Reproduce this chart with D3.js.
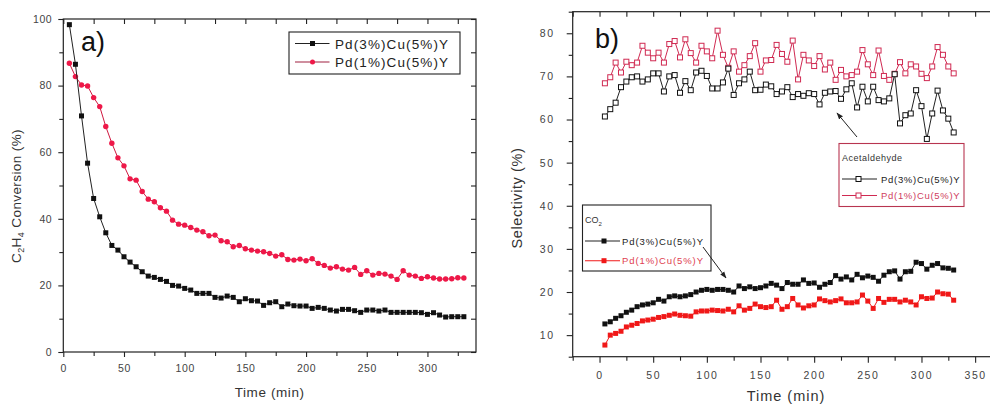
<!DOCTYPE html>
<html><head><meta charset="utf-8">
<script src="https://cdn.jsdelivr.net/npm/d3@7"></script>
<style>
body{margin:0;background:#fff;}
svg{display:block;font-family:"Liberation Sans",Arial,sans-serif;}
.tick text{fill:#444;}
.domain{display:none;}
.tick line{stroke:#222;stroke-width:1.1;}
</style></head>
<body>
<script>
// ---------- DATA ----------
const time = [5,10,15,20,25,30,35,40,45,50,55,60,65,70,75,80,85,90,95,100,105,110,115,120,125,130,135,140,145,150,155,160,165,170,175,180,185,190,195,200,205,210,215,220,225,230,235,240,245,250,255,260,265,270,275,280,285,290,295,300,305,310,315,320,325,330];

// panel a) C2H4 conversion (%)
const convPd3 = [98.3,86.4,70.9,56.7,46.1,40.6,35.8,32.0,30.6,28.6,27.0,25.6,24.1,22.8,22.4,21.8,21.2,20.0,19.8,19.1,18.6,17.6,17.6,17.6,16.4,16.2,16.8,16.4,15.1,16.0,15.4,15.3,14.0,14.8,15.1,13.6,14.4,13.9,13.8,13.8,13.1,13.4,13.1,12.6,12.3,12.8,12.8,12.4,11.9,12.6,12.6,12.3,12.6,11.9,11.9,11.9,11.9,11.9,11.8,11.3,11.8,11.1,10.5,10.6,10.6,10.6];
const convPd1 = [86.7,82.7,80.2,79.9,76.4,73.7,67.7,62.7,58.3,55.9,52.0,51.6,48.2,45.9,45.1,43.3,42.3,39.6,38.4,38.1,37.4,36.6,36.1,34.9,35.1,33.4,33.1,31.6,32.0,31.0,30.6,30.3,30.1,29.6,28.8,29.2,27.8,27.6,27.9,27.4,28.0,26.6,26.0,25.2,25.6,24.9,24.6,25.4,23.3,24.4,23.1,23.6,23.4,22.8,21.8,24.4,23.1,22.8,22.1,22.6,22.2,21.9,21.9,22.0,22.3,22.2];

// panel b) selectivity (%)
const aldPd3 = [60.7,62.4,63.9,67.5,68.8,69.8,70.0,68.8,69.3,70.7,70.7,66.5,70.0,70.3,66.2,68.9,66.8,70.9,71.3,70.1,67.2,67.2,68.6,71.8,65.7,68.4,69.3,71.1,66.8,66.9,68.1,67.7,65.9,66.5,67.5,65.2,65.9,65.5,66.1,65.9,63.5,66.2,66.5,66.6,64.8,67.0,68.4,62.8,67.6,64.2,67.6,64.5,64.2,64.9,70.5,59.1,61.0,61.4,66.8,63.1,55.5,61.4,66.7,62.1,60.2,57.0];
const aldPd1 = [68.4,69.8,73.2,70.9,73.4,72.6,73.2,77.1,75.5,74.2,75.5,73.2,77.5,78.2,74.4,78.6,75.4,73.2,77.1,75.8,74.2,80.6,75.0,72.0,75.8,71.1,72.6,74.7,77.7,71.1,73.7,73.8,77.3,75.2,73.4,78.3,69.3,75.0,73.7,72.4,74.7,71.6,73.2,69.2,71.5,70.0,70.3,71.1,76.1,72.8,70.3,76.0,70.1,69.2,70.6,73.3,70.7,72.8,72.3,70.6,69.6,72.3,76.8,75.0,72.3,70.7];
const co2Pd3 = [12.6,13.1,13.9,14.5,15.3,15.8,16.6,17.0,17.2,17.5,18.3,17.9,18.9,19.1,18.9,19.1,19.4,20.0,20.4,20.6,20.4,20.6,20.6,20.4,20.0,21.4,20.8,21.2,20.8,21.0,21.4,22.0,21.6,20.8,22.2,21.8,21.8,22.8,22.0,22.1,21.1,21.8,22.2,23.8,23.0,23.5,22.8,24.1,23.3,23.7,23.4,22.5,23.9,24.7,24.9,23.0,24.7,24.8,26.9,26.6,25.3,26.2,26.6,25.6,25.5,25.1];
const co2Pd1 = [7.7,10.0,10.4,10.9,11.9,12.3,12.7,13.3,13.5,13.7,14.1,14.3,14.6,14.9,14.6,14.5,14.4,15.4,15.6,15.6,15.8,15.7,15.6,16.0,15.4,16.8,15.8,16.2,17.2,16.6,16.4,16.6,18.1,16.0,16.6,18.5,17.0,16.3,16.8,17.0,18.4,18.0,17.7,18.0,18.4,17.5,17.5,17.7,19.3,17.9,16.2,18.5,17.6,18.3,18.3,17.7,18.1,17.7,17.0,18.9,18.5,18.6,20.0,19.6,19.5,18.1];

// ticks
const aXMajor = [0,50,100,150,200,250,300];
const aXMinor = [25,75,125,175,225,275,325];
const aYMajor = [0,20,40,60,80,100];
const aYMinor = [10,30,50,70,90];
const bXMajor = [0,50,100,150,200,250,300,350];
const bXMinor = [-25,25,75,125,175,225,275,325];
const bYMajor = [10,20,30,40,50,60,70,80];
const bYMinor = [5,15,25,35,45,55,65,75,85];

const seriesNames = ["Pd(3%)Cu(5%)Y","Pd(1%)Cu(5%)Y"];
const legendNamesB = ["Pd(3%)Cu(5%)Y","Pd(1%)Cu(5%)Y"];

// ---------- DRAW ----------
const W = 990, H = 405;
const svg = d3.select("body").append("svg").attr("width",W).attr("height",H);
const defs = svg.append("defs");
defs.append("marker").attr("id","arr").attr("viewBox","0 0 10 10").attr("refX",9).attr("refY",5)
  .attr("markerWidth",7).attr("markerHeight",7).attr("orient","auto")
  .append("path").attr("d","M0,1.5 L10,5 L0,8.5 Z").attr("fill","#222");

const BLACK = "#111", RED_A = "#ee1848", RED_ALD = "#d02a52", RED_CO2 = "#f01818";

function styleTicks(g, fs, ls){
  g.selectAll(".tick text").style("font-size",fs+"px").style("letter-spacing",ls+"px");
}

function frame(x, y, o){
  const [x0,x1] = x.range(); const [y0,y1] = y.range();
  const gb = svg.append("g").attr("transform",`translate(0,${y0})`)
    .call(d3.axisBottom(x).tickValues(o.xMaj).tickSize(o.tl).tickPadding(o.bpad).tickSizeOuter(0));
  styleTicks(gb, o.fs, o.ls);
  svg.append("g").attr("transform",`translate(0,${y0})`)
    .call(d3.axisBottom(x).tickValues(o.xMin).tickSize(o.tm).tickFormat("").tickSizeOuter(0));
  const gl = svg.append("g").attr("transform",`translate(${x0},0)`)
    .call(d3.axisLeft(y).tickValues(o.yMaj).tickSize(o.tl).tickPadding(o.lpad).tickSizeOuter(0));
  styleTicks(gl, o.fs, o.ls);
  svg.append("g").attr("transform",`translate(${x0},0)`)
    .call(d3.axisLeft(y).tickValues(o.yMin).tickSize(o.tm).tickFormat("").tickSizeOuter(0));
  svg.append("g").attr("transform",`translate(0,${y1})`)
    .call(d3.axisBottom(x).tickValues(o.xMaj.concat(o.xMin)).tickSize(5).tickFormat("").tickSizeOuter(0));
  if (o.right){
    svg.append("g").attr("transform",`translate(${x1},0)`)
      .call(d3.axisLeft(y).tickValues(o.yMaj.concat(o.yMin)).tickSize(5).tickFormat("").tickSizeOuter(0));
  }
  svg.append("rect").attr("x",x0).attr("y",y1).attr("width",x1-x0).attr("height",y0-y1)
    .attr("fill","none").attr("stroke","#222").attr("stroke-width",1.2);
}

function drawSeries(x, y, vals, color, lineColor, marker, size){
  const pts = time.map((t,i)=>[t, vals[i]]);
  svg.append("path").datum(pts)
    .attr("d", d3.line().x(d=>x(d[0])).y(d=>y(d[1])))
    .attr("fill","none").attr("stroke",lineColor).attr("stroke-width",1);
  const g = svg.append("g");
  if (marker === "circle"){
    g.selectAll("circle").data(pts).join("circle")
      .attr("cx",d=>x(d[0])).attr("cy",d=>y(d[1])).attr("r",size/2).attr("fill",color);
  } else if (marker === "square"){
    g.selectAll("rect").data(pts).join("rect")
      .attr("x",d=>x(d[0])-size/2).attr("y",d=>y(d[1])-size/2).attr("width",size).attr("height",size).attr("fill",color);
  } else {
    g.selectAll("rect").data(pts).join("rect")
      .attr("x",d=>x(d[0])-size/2).attr("y",d=>y(d[1])-size/2).attr("width",size).attr("height",size)
      .attr("fill","#fff").attr("stroke",color).attr("stroke-width",1);
  }
}

function legendMarker(cx, cy, marker, color, size){
  if (marker === "circle") svg.append("circle").attr("cx",cx).attr("cy",cy).attr("r",size/2).attr("fill",color);
  else if (marker === "square") svg.append("rect").attr("x",cx-size/2).attr("y",cy-size/2).attr("width",size).attr("height",size).attr("fill",color);
  else svg.append("rect").attr("x",cx-size/2).attr("y",cy-size/2).attr("width",size).attr("height",size).attr("fill","#fff").attr("stroke",color);
}

// ----- Panel a -----
const xA = d3.scaleLinear().domain([0,340]).range([63.3,476]);
const yA = d3.scaleLinear().domain([0,100]).range([352,19]);
frame(xA, yA, {xMaj:aXMajor,xMin:aXMinor,yMaj:aYMajor,yMin:aYMinor,tl:5,tm:4,fs:10.5,ls:0.6,bpad:8,lpad:6,right:true});
drawSeries(xA, yA, convPd1, RED_A, "#d01840", "circle", 5.4);
drawSeries(xA, yA, convPd3, BLACK, "#222", "square", 5);

svg.append("text").attr("x",81).attr("y",51).attr("font-size",27).attr("fill","#111").text("a)");
svg.append("text").attr("transform","translate(21,196) rotate(-90)").attr("text-anchor","middle")
  .attr("font-size",13.5).attr("fill","#333").attr("letter-spacing",0.4)
  .html('C<tspan font-size="9" dy="3">2</tspan><tspan dy="-3">H</tspan><tspan font-size="9" dy="3">4</tspan><tspan dy="-3"> Conversion (%)</tspan>');
svg.append("text").attr("x",xA(170)).attr("y",397).attr("text-anchor","middle")
  .attr("font-size",13.5).attr("fill","#333").attr("letter-spacing",0.6).text("Time (min)");

// legend a
svg.append("rect").attr("x",289).attr("y",32).attr("width",171).attr("height",42)
  .attr("fill","#fff").attr("stroke","#222").attr("stroke-width",1.1);
[[BLACK,"#222","square",5],[RED_A,"#a02040","circle",5]].forEach((s,i)=>{
  const cy = 43.5 + i*18.5;
  svg.append("line").attr("x1",295).attr("x2",329.5).attr("y1",cy).attr("y2",cy).attr("stroke",s[1]).attr("stroke-width",1.1);
  legendMarker(312.5, cy, s[2], s[0], s[3]);
  svg.append("text").attr("x",335).attr("y",cy+5).attr("font-size",13.5).attr("letter-spacing",1.1)
    .attr("fill","#222").text(seriesNames[i]);
});

// ----- Panel b -----
const xB = d3.scaleLinear().domain([-25,370]).range([572.7,996.6]);
const yB = d3.scaleLinear().domain([5,85]).range([356.7,11.7]);
frame(xB, yB, {xMaj:bXMajor,xMin:bXMinor,yMaj:bYMajor,yMin:bYMinor,tl:6,tm:4,fs:10.5,ls:1.6,bpad:9,lpad:12,right:false});
drawSeries(xB, yB, aldPd1, RED_ALD, RED_ALD, "open", 5);
drawSeries(xB, yB, aldPd3, BLACK, "#222", "open", 5);
drawSeries(xB, yB, co2Pd1, RED_CO2, RED_CO2, "square", 5);
drawSeries(xB, yB, co2Pd3, BLACK, "#222", "square", 5);

svg.append("text").attr("x",595).attr("y",48).attr("font-size",27).attr("fill","#111").text("b)");
svg.append("text").attr("transform","translate(522,198) rotate(-90)").attr("text-anchor","middle")
  .attr("font-size",14.5).attr("fill","#333").attr("letter-spacing",0.6).text("Selectivity (%)");
svg.append("text").attr("x",786).attr("y",401).attr("text-anchor","middle")
  .attr("font-size",14.5).attr("fill","#333").attr("letter-spacing",1.0).text("Time (min)");

// legend CO2
svg.append("rect").attr("x",582.5).attr("y",205).attr("width",128.5).attr("height",66)
  .attr("fill","#fff").attr("stroke","#222").attr("stroke-width",1.1);
svg.append("text").attr("x",585).attr("y",223).attr("font-size",9).attr("fill","#333")
  .html('CO<tspan font-size="6" dy="2.5">2</tspan>');
[[BLACK,"#222","#222"],[RED_CO2,RED_CO2,"#e04050"]].forEach((s,i)=>{
  const cy = 241 + i*19.7;
  svg.append("line").attr("x1",585).attr("x2",620).attr("y1",cy).attr("y2",cy).attr("stroke",s[1]).attr("stroke-width",1.1);
  legendMarker(604, cy, "square", s[0], 5);
  svg.append("text").attr("x",622).attr("y",cy+3.5).attr("font-size",9.5).attr("letter-spacing",0.9)
    .attr("fill",s[2]).text(legendNamesB[i]);
});
svg.append("line").attr("x1",703).attr("y1",247).attr("x2",726).attr("y2",278)
  .attr("stroke","#222").attr("stroke-width",1).attr("marker-end","url(#arr)");

// legend Acetaldehyde
svg.append("rect").attr("x",839).attr("y",143.5).attr("width",125).attr("height",63)
  .attr("fill","#fff").attr("stroke","#b83550").attr("stroke-width",1.1);
svg.append("text").attr("x",842).attr("y",161).attr("font-size",9).attr("letter-spacing",0.5).attr("fill","#333").text("Acetaldehyde");
[[BLACK,"#222","#222"],[RED_ALD,RED_ALD,"#d04060"]].forEach((s,i)=>{
  const cy = 179 + i*16.5;
  svg.append("line").attr("x1",842).attr("x2",877).attr("y1",cy).attr("y2",cy).attr("stroke",s[1]).attr("stroke-width",1.1);
  legendMarker(858.5, cy, "open", s[0], 5);
  svg.append("text").attr("x",881).attr("y",cy+3.5).attr("font-size",9.5).attr("letter-spacing",0.7)
    .attr("fill",s[2]).text(legendNamesB[i]);
});
svg.append("line").attr("x1",857).attr("y1",137).attr("x2",837).attr("y2",113)
  .attr("stroke","#222").attr("stroke-width",1).attr("marker-end","url(#arr)");
</script>
</body></html>
